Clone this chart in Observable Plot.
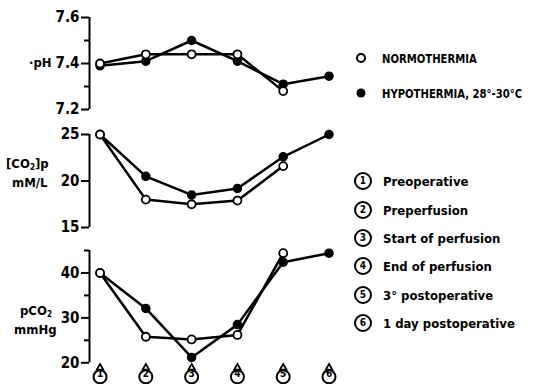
<!DOCTYPE html>
<html>
<head>
<meta charset="utf-8">
<script src="https://cdn.jsdelivr.net/npm/d3@7"></script>
<script src="https://cdn.jsdelivr.net/npm/@observablehq/plot@0.6"></script>
<style>
  html, body { margin: 0; padding: 0; background: #fff; }
  #chart { position: relative; width: 536px; height: 384px; overflow: hidden;
    font-family: "Liberation Sans Narrow", "DejaVu Sans Condensed", "DejaVu Sans", sans-serif; font-stretch: condensed; font-weight: bold; color: #000; }
  #chart svg text { font-stretch: condensed; }
  .panel { position: absolute; left: 0; }
  .lab { position: absolute; font-size: 13px; line-height: 1; white-space: nowrap; }
  .lab sub { font-size: 8px; vertical-align: -2px; }
  .leg { position: absolute; font-size: 13px; line-height: 1; white-space: nowrap; transform: translateY(-50%); }
  .sleg { position: absolute; font-size: 13px; line-height: 1; white-space: nowrap; transform-origin: 0 50%; transform: translateY(-50%) scaleX(0.86); }
  .num { position: absolute; width: 14px; height: 14px; border: 2px solid #000; border-radius: 50%;
    font-size: 10px; line-height: 14px; text-align: center; transform: translate(-50%, -50%); }
  .sym { position: absolute; border-radius: 50%; transform: translate(-50%, -50%); }
</style>
</head>
<body>
<div id="chart"></div>
<script>
// ---- data ----
const stages = [1, 2, 3, 4, 5, 6];
const stageLabels = ["Preoperative", "Preperfusion", "Start of perfusion", "End of perfusion", "3° postoperative", "1 day postoperative"];
const seriesNames = ["NORMOTHERMIA", "HYPOTHERMIA, 28°-30°C"];

const phNormo = [7.40, 7.44, 7.44, 7.44, 7.28, null];
const phHypo  = [7.39, 7.41, 7.50, 7.41, 7.31, 7.345];

const co2Normo = [25, 18.0, 17.5, 17.9, 21.6, null];
const co2Hypo  = [25, 20.5, 18.5, 19.2, 22.6, 25];

const pco2Normo = [40, 25.8, 25.2, 26.2, 44.4, null];
const pco2Hypo  = [40, 32.1, 21.2, 28.5, 42.4, 44.4];

const phTicks = [7.2, 7.4, 7.6], phMinor = [7.3, 7.5];
const co2Ticks = [15, 20, 25];
const pco2Ticks = [20, 30, 40], pco2Minor = [25, 35, 45];

// ---- helpers ----
const FONT = '"Liberation Sans Narrow", "DejaVu Sans Condensed", "DejaVu Sans", sans-serif';
const W = 536;
const xDomain = [0.77, 6];
const mL = 89, mR = 207.5;

function rows(vals) {
  return stages.map((s, i) => ({stage: s, v: vals[i]})).filter(d => d.v != null);
}

function panel({top, height, mT, mB, domain, ticks, minor, normo, hypo, markers}) {
  const n = rows(normo), h = rows(hypo);
  const marks = [
    Plot.ruleX([xDomain[0]], {y1: domain[0], y2: domain[1], stroke: "black", strokeWidth: 2}),
    Plot.axisY({ticks, tickSize: 8, tickPadding: 2, tickFormat: d => String(d), fontSize: 15, fontWeight: "bold", strokeWidth: 2, label: null}),
  ];
  if (minor) marks.push(Plot.axisY({ticks: minor, tickSize: 5, tickFormat: () => "", strokeWidth: 2, label: null}));
  marks.push(
    Plot.line(h, {x: "stage", y: "v", stroke: "black", strokeWidth: 2.5}),
    Plot.line(n, {x: "stage", y: "v", stroke: "black", strokeWidth: 2.5}),
    Plot.dot(h, {x: "stage", y: "v", r: 4, fill: "black", stroke: "black"}),
    Plot.dot(n, {x: "stage", y: "v", r: 4, fill: "white", stroke: "black", strokeWidth: 1.8})
  );
  if (markers) {
    marks.push(
      Plot.dot(stages, {x: d => d, frameAnchor: "bottom", dy: 5, symbol: "triangle", r: 2.4, fill: "white", stroke: "black", strokeWidth: 1.8}),
      Plot.dot(stages, {x: d => d, frameAnchor: "bottom", dy: 14, r: 6.5, fill: "white", stroke: "black", strokeWidth: 2}),
      Plot.text(stages, {x: d => d, text: d => String(d), frameAnchor: "bottom", dy: 14.5, fontSize: 10, fontWeight: "bold"})
    );
  }
  const svg = Plot.plot({
    width: W, height,
    marginTop: mT, marginBottom: mB, marginLeft: mL, marginRight: mR,
    style: {fontFamily: FONT, fontStretch: "condensed", background: "transparent", overflow: "visible"},
    x: {domain: xDomain, axis: null},
    y: {domain, axis: null},
    marks
  });
  svg.classList.add("panel");
  svg.style.top = top + "px";
  return svg;
}

const chart = document.getElementById("chart");
chart.append(
  panel({top: 0, height: 125, mT: 17, mB: 16, domain: [7.2, 7.6], ticks: phTicks, minor: phMinor, normo: phNormo, hypo: phHypo}),
  panel({top: 125, height: 115, mT: 9, mB: 13, domain: [15, 25], ticks: co2Ticks, normo: co2Normo, hypo: co2Hypo}),
  panel({top: 240, height: 144, mT: 10, mB: 21.7, domain: [20, 45], ticks: pco2Ticks, minor: pco2Minor, normo: pco2Normo, hypo: pco2Hypo, markers: true})
);

function addHTML(html) { chart.insertAdjacentHTML("beforeend", html); }

// panel labels
addHTML(`<div class="lab" style="left:29px;top:56px;">·pH</div>`);
addHTML(`<div class="lab" style="left:6px;top:157px;">[CO<sub>2</sub>]p</div>`);
addHTML(`<div class="lab" style="left:12px;top:176px;">mM/L</div>`);
addHTML(`<div class="lab" style="left:20px;top:304px;">pCO<sub>2</sub></div>`);
addHTML(`<div class="lab" style="left:14px;top:323px;">mmHg</div>`);

// series legend
addHTML(`<div class="sym" style="left:361px;top:58px;width:6px;height:6px;border:2px solid #000;background:#fff;"></div>`);
addHTML(`<div class="sleg" style="left:382px;top:58px;">${seriesNames[0]}</div>`);
addHTML(`<div class="sym" style="left:361px;top:93px;width:9px;height:9px;background:#000;"></div>`);
addHTML(`<div class="sleg" style="left:382px;top:93px;">${seriesNames[1]}</div>`);

// stage legend
const legY = [181, 210, 238, 266, 295, 323];
stages.forEach((s, i) => {
  addHTML(`<div class="num" style="left:363px;top:${legY[i]}px;">${s}</div>`);
  addHTML(`<div class="leg" style="left:383px;top:${legY[i]}px;">${stageLabels[i]}</div>`);
});
</script>
</body>
</html>
